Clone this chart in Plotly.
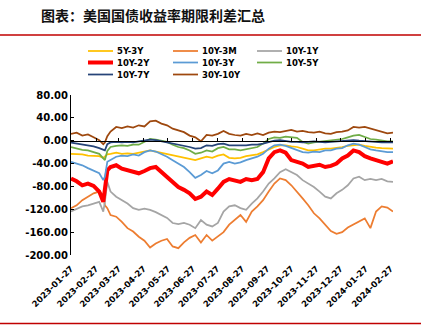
import plotly.graph_objects as go

dates = ["2023-01-27","2023-02-03","2023-02-10","2023-02-17","2023-02-24","2023-03-03","2023-03-08","2023-03-10","2023-03-13",
         "2023-03-17","2023-03-24","2023-03-31","2023-04-07","2023-04-14","2023-04-21","2023-04-28","2023-05-05","2023-05-12","2023-05-19",
         "2023-05-26","2023-06-02","2023-06-09","2023-06-16","2023-06-23","2023-06-30","2023-07-07","2023-07-14","2023-07-21","2023-07-28",
         "2023-08-04","2023-08-11","2023-08-18","2023-08-25","2023-09-01","2023-09-08","2023-09-15","2023-09-22","2023-09-29","2023-10-06",
         "2023-10-13","2023-10-20","2023-10-27","2023-11-03","2023-11-10","2023-11-17","2023-11-24","2023-12-01","2023-12-08","2023-12-15",
         "2023-12-22","2023-12-29","2024-01-05","2024-01-12","2024-01-19","2024-01-26","2024-02-02","2024-02-09","2024-02-16","2024-02-23",
         "2024-03-01"]

s_5y3y = [-23,-23,-24,-26,-26,-27,-30,-28,-24,
          -23,-21,-23,-22,-23,-21,-20,-17,-19,-21,
          -23,-26,-28,-29,-31,-34,-31,-28,-30,-26,
          -24,-30,-31,-30,-27,-26,-24,-20,-15,-11,
          -8,-8,-10,-11,-14,-17,-17,-15,-14,-14,
          -13,-11,-9,-8,-7,-9,-11,-12,-13,-13,-14]
s_10y3m = [-118,-113,-104,-98,-92,-89,-95,-113,-118,
           -130,-133,-142,-153,-159,-168,-175,-187,-180,-175,
           -172,-185,-188,-178,-170,-165,-178,-165,-175,-168,
           -160,-147,-139,-130,-142,-124,-115,-104,-89,-75,
           -66,-69,-78,-89,-101,-113,-127,-136,-147,-158,
           -163,-160,-152,-147,-142,-136,-153,-124,-115,-117,-124]
s_10y1y = [-124,-119,-115,-113,-110,-107,-124,-107,-72,
           -89,-98,-104,-110,-118,-121,-119,-121,-125,-130,
           -135,-144,-146,-144,-147,-153,-139,-147,-150,-144,
           -124,-115,-113,-118,-121,-110,-101,-89,-75,-66,
           -55,-50,-55,-60,-69,-75,-81,-89,-98,-101,
           -92,-86,-78,-66,-63,-69,-67,-69,-67,-71,-72]
s_10y2y = [-66,-71,-78,-75,-79,-89,-107,-89,-52,
           -46,-43,-49,-52,-55,-57,-53,-48,-46,-55,
           -63,-72,-81,-86,-92,-102,-98,-89,-95,-84,
           -72,-67,-69,-72,-67,-69,-67,-55,-31,-20,
           -17,-21,-34,-37,-40,-46,-44,-42,-46,-44,
           -40,-31,-26,-17,-20,-27,-31,-34,-38,-40,-36]
s_10y3y = [-37,-40,-43,-48,-52,-57,-69,-63,-37,
           -34,-28,-26,-27,-24,-26,-20,-17,-19,-23,
           -28,-34,-40,-46,-55,-65,-60,-53,-57,-52,
           -40,-37,-40,-38,-34,-31,-28,-23,-14,-8,
           -7,-9,-13,-17,-20,-21,-19,-20,-17,-17,
           -14,-13,-8,-5,-7,-11,-15,-17,-19,-20,-20]
s_10y5y = [-11,-14,-16,-17,-20,-23,-31,-34,-18,
           -11,-9,-8,-9,-7,-7,-2,3,2,0,
           -2,-7,-11,-13,-17,-23,-21,-17,-19,-13,
           -11,-15,-15,-17,-15,-13,-11,-5,3,6,
           5,7,6,5,-2,-5,-3,-2,-1,1,
           1,3,6,9,10,6,3,2,0,-1,-1]
s_10y7y = [-3.5,-5,-7,-8,-10,-13,-15,-17,-6,
           -3,-2,-3,-2,-3,-1,0,2,1,-1,
           -2,-5,-7,-8,-11,-14,-13,-8,-9,-6,
           -5,-8,-8,-9,-8,-7,-7,-5,-2,0,
           1,-1,-2,-2,-3,-2,-1,-2,-3,-2,
           -1,0,1,1,0,-1,-2,-3,-3,-3,-3]
s_30y10y = [12,14,9,11,6,1,-6,-3,8,
            16,24,22,25,23,27,25,34,35,30,
            27,21,18,15,9,6,-1,10,9,12,
            17,12,10,9,12,10,13,10,14,16,
            15,17,19,16,17,15,14,16,13,12,
            15,16,18,24,23,24,21,19,16,13,14]

names = ["5Y-3Y", "10Y-3M", "10Y-1Y", "10Y-2Y", "10Y-3Y", "10Y-5Y", "10Y-7Y", "30Y-10Y"]
series = [s_5y3y, s_10y3m, s_10y1y, s_10y2y, s_10y3y, s_10y5y, s_10y7y, s_30y10y]
colors = ["#FFC000", "#ED7D31", "#A5A5A5", "#FF0000", "#5B9BD5", "#70AD47", "#264478", "#9E480E"]
widths = [1.75, 1.75, 1.75, 4, 1.75, 1.75, 1.75, 1.75]

tick_dates = ["2023-01-27","2023-02-27","2023-03-27","2023-04-27","2023-05-27","2023-06-27","2023-07-27",
              "2023-08-27","2023-09-27","2023-10-27","2023-11-27","2023-12-27","2024-01-27","2024-02-27"]
y_ticks = [80, 40, 0, -40, -80, -120, -160, -200]
y_tick_text = ["80.00", "40.00", "0.00", "-40.00", "-80.00", "-120.00", "-160.00", "-200.00"]

title = "图表：美国国债收益率期限利差汇总"
source = "资料来源：Wind，中邮证券研究所"

# layout geometry (pixels)
W, H = 428, 332
L, R, T, B = 71, 35, 95, 77
PW, PH = W - L - R, H - T - B

def px(x):
    return (x - L) / PW

def py(y):
    return (H - B - y) / PH

fig = go.Figure()
for n, s, c, w in zip(names, series, colors, widths):
    fig.add_trace(go.Scatter(x=dates, y=s, name=n, mode="lines",
                             line=dict(color=c, width=w), showlegend=False))

# helper trace for the axis drawn at y=0
fig.add_trace(go.Scatter(x=[dates[0], dates[-1]], y=[0, 0], xaxis="x2", yaxis="y",
                         mode="lines", line=dict(width=0), hoverinfo="skip", showlegend=False))

tick_font = dict(family="DejaVu Sans", size=8.5, color="#000000")

fig.update_layout(
    width=W, height=H,
    margin=dict(l=L, r=R, t=T, b=B),
    paper_bgcolor="white", plot_bgcolor="white",
    xaxis=dict(type="date", range=[dates[0], dates[-1]], tickvals=tick_dates,
               ticktext=["<b>%s</b>" % d for d in tick_dates], tickangle=-45,
               tickfont=tick_font, showline=False, ticks="", showgrid=False, zeroline=False,
               ticklabelstandoff=6),
    xaxis2=dict(type="date", range=[dates[0], dates[-1]], overlaying="x", anchor="free",
                position=py(H - B - PH * 200 / 280), tickvals=tick_dates, showticklabels=False,
                showline=True, linecolor="black", linewidth=1, ticks="inside", ticklen=3,
                tickcolor="black", showgrid=False, zeroline=False),
    yaxis=dict(range=[-200, 80], tickvals=y_ticks, ticktext=["<b>%s</b>" % t for t in y_tick_text],
               tickfont=dict(family="DejaVu Sans", size=10, color="#000000"),
               showline=True, linecolor="black", linewidth=1, ticks="inside", ticklen=3,
               tickcolor="black", showgrid=False, zeroline=False),
)

shapes = []
annotations = []
# red rules
shapes.append(dict(type="line", xref="paper", yref="paper", x0=px(0), x1=px(421), y0=py(35), y1=py(35),
                   line=dict(color="#C00000", width=1.5)))
shapes.append(dict(type="line", xref="paper", yref="paper", x0=px(0), x1=px(421), y0=py(323.5), y1=py(323.5),
                   line=dict(color="#C00000", width=1.5)))
annotations.append(dict(text="<b>%s</b>" % title, xref="paper", yref="paper", x=px(39), y=py(15), xanchor="left",
                        yanchor="middle", showarrow=False,
                        font=dict(family="Noto Sans CJK SC", size=14, color="#111111")))
annotations.append(dict(text=source, xref="paper", yref="paper", x=px(43), y=py(328), xanchor="left",
                        yanchor="top", showarrow=False,
                        font=dict(family="Noto Sans CJK SC", size=11, color="#333333")))

# legend
col_x = [88, 173, 257]
row_y = [51, 62.5, 74.5]
for i, (n, c, w) in enumerate(zip(names, colors, widths)):
    cx, ry = col_x[i % 3], row_y[i // 3]
    shapes.append(dict(type="line", xref="paper", yref="paper", x0=px(cx), x1=px(cx + 25),
                       y0=py(ry), y1=py(ry), line=dict(color=c, width=w)))
    annotations.append(dict(text="<b>%s</b>" % n, xref="paper", yref="paper", x=px(cx + 27), y=py(ry),
                            xanchor="left", yanchor="middle", showarrow=False,
                            font=dict(family="DejaVu Sans", size=8.5, color="#000000")))

fig.update_layout(shapes=shapes, annotations=annotations)
fig.write_html("out.html")
